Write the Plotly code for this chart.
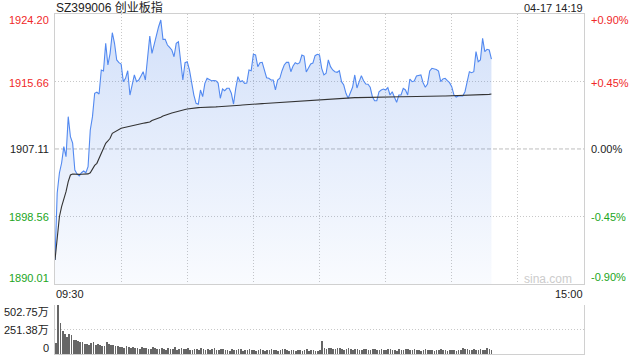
import plotly.graph_objects as go

W, H = 640, 360
prev_close = 1907.11

price = [
 1893.05, 1901.53, 1904.07, 1905.33, 1907.40, 1906.13, 1911.20, 1908.66, 1907.86, 1904.45,
 1903.94, 1903.69, 1904.10, 1904.32, 1904.10, 1904.86, 1909.51, 1911.20, 1914.16, 1914.29,
 1914.07, 1917.11, 1916.98, 1920.49, 1917.74, 1919.22, 1921.83, 1920.49, 1918.38, 1918.04,
 1917.87, 1915.63, 1916.06, 1917.02, 1913.94, 1915.21, 1916.48, 1915.63, 1915.84, 1916.35,
 1916.89, 1915.84, 1918.38, 1921.41, 1919.22, 1920.49, 1921.76, 1922.59, 1923.44, 1920.99,
 1920.99, 1920.27, 1919.98, 1919.64, 1918.79, 1920.49, 1920.69, 1918.38, 1915.84, 1918.03,
 1918.16, 1917.11, 1915.42, 1913.94, 1912.89, 1912.77, 1914.58, 1913.73, 1915.42, 1916.06,
 1915.91, 1915.75, 1915.78, 1915.75, 1915.46, 1913.53, 1914.70, 1914.49, 1914.79, 1914.79,
 1914.16, 1912.80, 1914.79, 1916.26, 1915.63, 1915.75, 1915.42, 1915.46, 1917.11, 1917.02,
 1919.10, 1919.01, 1917.53, 1918.03, 1918.08, 1917.11, 1916.13, 1916.06, 1915.84, 1915.84,
 1914.58, 1915.84, 1916.06, 1917.02, 1917.74, 1918.08, 1918.08, 1916.89, 1917.61, 1918.03,
 1917.87, 1918.03, 1919.01, 1918.88, 1916.86, 1917.36, 1917.87, 1917.99, 1918.92, 1919.10,
 1919.01, 1917.32, 1916.48, 1916.69, 1918.38, 1917.53, 1917.11, 1916.89, 1916.82, 1917.02,
 1915.63, 1915.21, 1914.16, 1913.53, 1914.16, 1914.92, 1916.48, 1914.83, 1915.63, 1916.39,
 1915.75, 1915.34, 1915.30, 1914.92, 1913.73, 1913.22, 1913.22, 1914.36, 1914.58, 1914.70,
 1914.58, 1914.87, 1913.94, 1914.36, 1913.65, 1913.02, 1913.94, 1913.94, 1914.79, 1914.58,
 1913.94, 1915.97, 1915.63, 1915.72, 1916.35, 1916.39, 1916.48, 1915.50, 1914.92, 1915.34,
 1916.98, 1917.32, 1917.24, 1917.17, 1916.98, 1915.63, 1915.97, 1916.06, 1915.75, 1915.50,
 1914.99, 1913.94, 1913.69, 1913.82, 1913.82, 1913.82, 1914.36, 1915.84, 1916.89, 1916.77,
 1916.89, 1919.43, 1918.16, 1918.38, 1921.12, 1919.43, 1919.73, 1919.64, 1918.50,
]

avg_price = [
 1893.05, 1896.00, 1898.53, 1899.80, 1900.65, 1901.70, 1902.97, 1903.81, 1903.94, 1903.90,
 1903.89, 1903.89, 1903.90, 1903.92, 1903.93, 1903.95, 1904.10, 1904.66, 1905.02, 1905.29,
 1905.93, 1906.47, 1906.98, 1907.83, 1908.12, 1908.46, 1909.09, 1909.26, 1909.42, 1909.57,
 1909.73, 1909.80, 1909.87, 1909.94, 1910.02, 1910.08, 1910.14, 1910.21, 1910.24, 1910.30,
 1910.36, 1910.41, 1910.46, 1910.52, 1910.71, 1910.80, 1910.90, 1910.99, 1911.13, 1911.28,
 1911.41, 1911.49, 1911.58, 1911.66, 1911.75, 1911.83, 1911.89, 1911.97, 1912.04, 1912.11,
 1912.17, 1912.22, 1912.26, 1912.30, 1912.33, 1912.35, 1912.36, 1912.36, 1912.37, 1912.37,
 1912.39, 1912.41, 1912.42, 1912.44, 1912.46, 1912.47, 1912.50, 1912.52, 1912.53, 1912.56,
 1912.58, 1912.59, 1912.61, 1912.63, 1912.65, 1912.67, 1912.68, 1912.71, 1912.73, 1912.75,
 1912.77, 1912.79, 1912.81, 1912.83, 1912.85, 1912.87, 1912.89, 1912.91, 1912.94, 1912.96,
 1912.98, 1913.00, 1913.02, 1913.04, 1913.06, 1913.08, 1913.10, 1913.12, 1913.14, 1913.17,
 1913.19, 1913.21, 1913.23, 1913.25, 1913.27, 1913.29, 1913.31, 1913.33, 1913.36, 1913.38,
 1913.40, 1913.41, 1913.43, 1913.44, 1913.46, 1913.47, 1913.49, 1913.50, 1913.51, 1913.53,
 1913.54, 1913.56, 1913.57, 1913.59, 1913.60, 1913.60, 1913.61, 1913.61, 1913.62, 1913.62,
 1913.63, 1913.63, 1913.64, 1913.64, 1913.65, 1913.65, 1913.66, 1913.66, 1913.67, 1913.67,
 1913.68, 1913.68, 1913.69, 1913.69, 1913.70, 1913.70, 1913.71, 1913.72, 1913.72, 1913.73,
 1913.73, 1913.74, 1913.74, 1913.75, 1913.76, 1913.76, 1913.77, 1913.77, 1913.78, 1913.78,
 1913.79, 1913.79, 1913.80, 1913.80, 1913.80, 1913.81, 1913.81, 1913.81, 1913.82, 1913.82,
 1913.82, 1913.82, 1913.82, 1913.82, 1913.82, 1913.82, 1913.82, 1913.83, 1913.85, 1913.86,
 1913.88, 1913.90, 1913.91, 1913.93, 1913.94, 1913.96, 1913.99, 1914.02, 1914.06,
]

volume = [  # 万
 110, 503, 315, 240, 210, 170, 205, 190, 140, 140,
 135, 125, 120, 105, 100, 95, 110, 120, 90, 105,
 95, 85, 80, 125, 100, 95, 90, 85, 80, 70,
 75, 65, 80, 70, 60, 75, 65, 60, 55, 70,
 60, 65, 55, 50, 70, 60, 55, 50, 65, 55,
 45, 60, 55, 50, 70, 45, 50, 60, 55, 50,
 60, 45, 40, 55, 50, 45, 60, 55, 40, 50,
 45, 55, 60, 40, 45, 50, 55, 45, 40, 35,
 50, 45, 40, 55, 50, 35, 45, 40, 50, 45,
 40, 35, 45, 50, 40, 35, 40, 45, 50, 40,
 45, 35, 40, 50, 55, 40, 35, 45, 40, 35,
 40, 45, 35, 40, 50, 35, 40, 45, 35, 30,
 45, 133, 60, 55, 65, 60, 50, 55, 65, 60,
 50, 45, 55, 60, 50, 45, 55, 50, 45, 40,
 55, 50, 45, 40, 50, 55, 45, 40, 50, 45,
 40, 55, 50, 45, 40, 35, 50, 45, 40, 55,
 50, 45, 40, 50, 45, 40, 35, 45, 50, 40,
 45, 40, 35, 45, 40, 50, 45, 40, 35, 40,
 45, 40, 35, 40, 45, 60, 55, 50, 45, 40,
 50, 45, 40, 55, 45, 40, 60, 50, 45,
]

price_ticks = [1924.20, 1915.66, 1907.11, 1898.56, 1890.01]
price_tick_labels = ["1924.20", "1915.66", "1907.11", "1898.56", "1890.01"]
pct_tick_labels = ["+0.90%", "+0.45%", "0.00%", "-0.45%", "-0.90%"]
vol_ticks = [502.75, 251.38, 0]
vol_tick_labels = ["502.75万", "251.38万", "0"]
title_text = "SZ399006 创业板指"
stamp_text = "04-17 14:19"
time_labels = ["09:30", "15:00"]
total_minutes = 240

RED = "#f02828"
GREEN = "#22a522"
BLACK = "#222222"
FONT = "Liberation Sans, Arial, Noto Sans CJK SC, sans-serif"
GRID = "#c8c8c8"
DOT = "1px,2px"

PL, PR = 55, 584
PT, PB = 14, 284
VT, VB = 305, 354

def px(x):
    return x / W

def py(y):
    return 1 - y / H

idx = list(range(len(price)))
vidx = list(range(len(volume)))
aidx = list(range(len(avg_price)))

fig = go.Figure()

fig.add_trace(go.Scatter(
    x=idx, y=price, mode="lines",
    line=dict(color="#5289f0", width=1.1),
    fill="tozeroy",
    fillgradient=dict(type="vertical", start=price_ticks[-1], stop=price_ticks[0],
                      colorscale=[[0, "rgba(60,120,230,0.03)"], [1, "rgba(60,120,230,0.23)"]]),
    hoverinfo="skip", xaxis="x", yaxis="y",
))
fig.add_trace(go.Scatter(
    x=aidx, y=avg_price, mode="lines",
    line=dict(color="#333333", width=1.1),
    hoverinfo="skip", xaxis="x", yaxis="y",
))
fig.add_trace(go.Bar(
    x=vidx, y=volume, width=0.3,
    marker=dict(color="#666666", line=dict(width=0)),
    hoverinfo="skip", xaxis="x2", yaxis="y2",
))

grid_x = [30, 60, 90, 120, 150, 180, 210]

fig.update_layout(
    width=W, height=H,
    margin=dict(l=0, r=0, t=0, b=0),
    paper_bgcolor="white", plot_bgcolor="white",
    showlegend=False,
    bargap=0,
    xaxis=dict(domain=[px(PL), px(PR)], range=[0, total_minutes],
               tickvals=grid_x, showticklabels=False, ticks="",
               showgrid=True, gridcolor=GRID, griddash=DOT, gridwidth=1,
               showline=True, linecolor="#d0d0d0", linewidth=1, mirror=True,
               zeroline=False, fixedrange=True),
    yaxis=dict(domain=[py(PB), py(PT)], range=[price_ticks[-1], price_ticks[0]],
               tickvals=[price_ticks[1], price_ticks[3]], showticklabels=False, ticks="",
               showgrid=True, gridcolor=GRID, griddash=DOT, gridwidth=1,
               showline=True, linecolor="#d0d0d0", linewidth=1, mirror=True,
               zeroline=False, fixedrange=True),
    xaxis2=dict(domain=[px(PL), px(PR)], range=[-0.5, total_minutes], anchor="y2",
                showticklabels=False, ticks="", showgrid=False,
                showline=True, linecolor="#d0d0d0", linewidth=1, mirror=False,
                zeroline=False, fixedrange=True),
    yaxis2=dict(domain=[py(VB), py(VT)], range=[0, vol_ticks[0]], anchor="x2",
                tickvals=[vol_ticks[0], vol_ticks[1]], showticklabels=False, ticks="",
                showgrid=True, gridcolor=GRID, griddash=DOT, gridwidth=1,
                showline=True, linecolor="#d0d0d0", linewidth=1, mirror=True,
                zeroline=False, fixedrange=True),
)

fig.add_shape(type="line", xref="x", yref="y", x0=0, x1=total_minutes,
              y0=prev_close, y1=prev_close,
              line=dict(color="#bdbdbd", width=1, dash="4px,2px"), layer="below")

ann = []
left_y = [20, 82.7, 149.3, 216.7, 278.3]
right_y = [20, 82.7, 149.3, 217.3, 277.3]
colors = [RED, RED, BLACK, GREEN, GREEN]
for lab, pl, c, yl, yr in zip(price_tick_labels, pct_tick_labels, colors, left_y, right_y):
    ann.append(dict(x=px(51), y=py(yl), xref="paper", yref="paper", text=lab,
                    showarrow=False, xanchor="right", yanchor="middle",
                    font=dict(family=FONT, size=11, color=c)))
    ann.append(dict(x=px(589), y=py(yr), xref="paper", yref="paper", text=pl,
                    showarrow=False, xanchor="left", yanchor="middle",
                    font=dict(family=FONT, size=11, color=c)))

for lab, yv in zip(vol_tick_labels, [312.3, 330, 348.3]):
    ann.append(dict(x=px(51), y=py(yv), xref="paper", yref="paper", text=lab,
                    showarrow=False, xanchor="right", yanchor="middle",
                    font=dict(family=FONT, size=11, color=BLACK)))

ann.append(dict(x=px(54), y=py(293.5), xref="paper", yref="paper", text=time_labels[0],
                showarrow=False, xanchor="left", yanchor="middle",
                font=dict(family=FONT, size=11, color=BLACK)))
ann.append(dict(x=px(585), y=py(293.5), xref="paper", yref="paper", text=time_labels[1],
                showarrow=False, xanchor="right", yanchor="middle",
                font=dict(family=FONT, size=11, color=BLACK)))
ann.append(dict(x=px(54), y=py(7.5), xref="paper", yref="paper", text=title_text,
                showarrow=False, xanchor="left", yanchor="middle",
                font=dict(family=FONT, size=12, color=BLACK)))
ann.append(dict(x=px(585), y=py(7.5), xref="paper", yref="paper", text=stamp_text,
                showarrow=False, xanchor="right", yanchor="middle",
                font=dict(family=FONT, size=11, color=BLACK)))
ann.append(dict(x=px(574), y=py(279), xref="paper", yref="paper", text="sina.com",
                showarrow=False, xanchor="right", yanchor="middle",
                font=dict(family=FONT, size=12, color="#cccccc")))

fig.update_layout(annotations=ann)
fig.write_html("out.html", config={"displayModeBar": False})
